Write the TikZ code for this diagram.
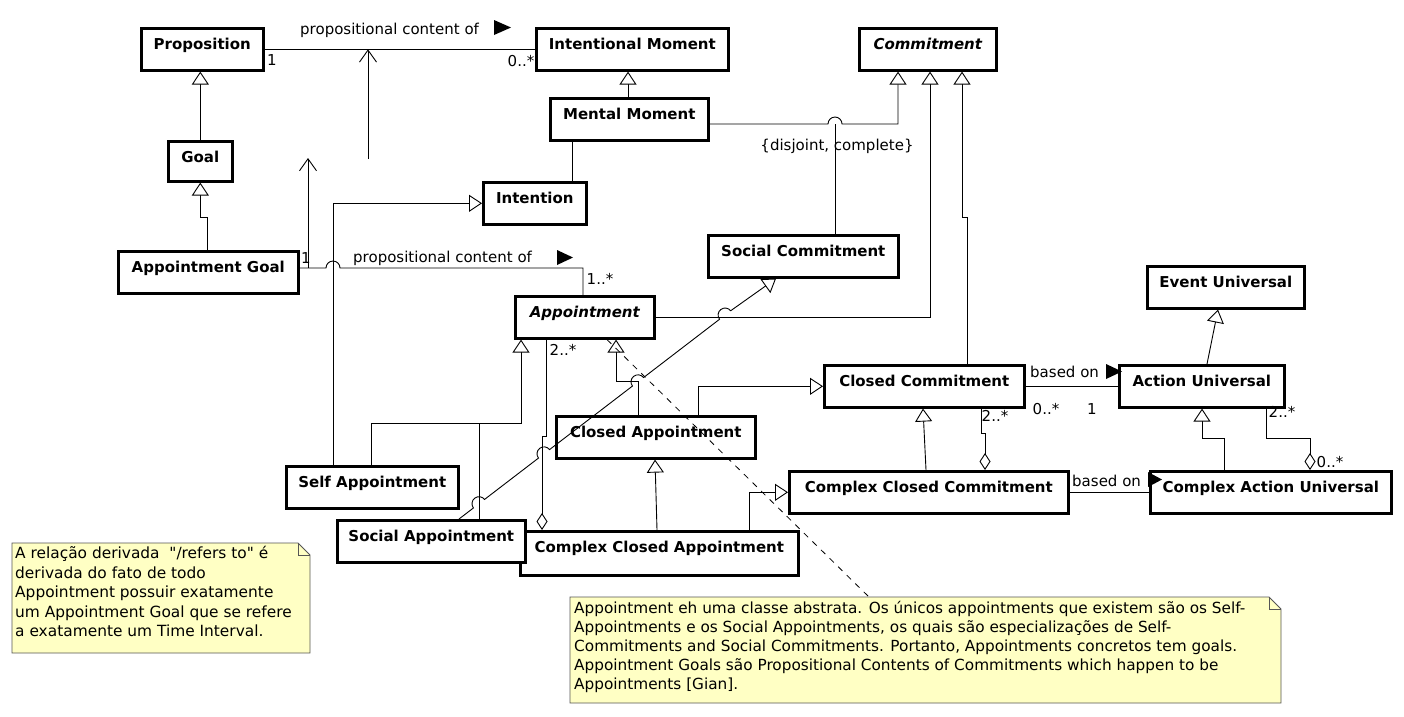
\documentclass[tikz,border=0pt]{standalone}
\usepackage{fontspec}
\setmainfont{DejaVu Sans}
\newfontfamily\notefont{DejaVu Sans}
\usepackage{tikz}
\usetikzlibrary{arrows.meta, calc}
\definecolor{noteyellow}{HTML}{FFFFC4}
\definecolor{noteedge}{HTML}{555555}

\begin{document}
\begin{tikzpicture}[
    x=1pt, y=-1pt,
    cls/.style={draw, line width=2.6pt, fill=white, anchor=north west,
        inner xsep=0pt, inner ysep=0pt, text height=21pt, text depth=21pt,
        font=\fontsize{15}{18}\selectfont\bfseries},
    abscls/.style={cls, font=\fontsize{15}{18}\selectfont\bfseries\itshape},
    link/.style={line width=0.9pt},
    gen/.style={link, -{Triangle[open, fill=white, length=13pt, width=17pt]}},
    aggr/.style={link, {Diamond[open, fill=white, length=17pt, width=11pt]}-},
    derive/.style={link, -{Straight Barb[length=12pt, width=17pt]}},
    lbl/.style={font=\fontsize{15}{18}\selectfont, inner sep=0pt},
    notetext/.style={align=left, anchor=north west, inner sep=0pt},
    notebox/.style={fill=noteyellow, draw=noteedge, line width=0.9pt},
]
    \fill[white] (0,0) rectangle (1404,716);
    \useasboundingbox (0,0) rectangle (1404,716);

    % notes
    \path[notebox] (12,543) -- (298,543) -- (310,555) -- (310,653) -- (12,653) -- cycle;
    \draw[noteedge, line width=0.9pt] (298,543) -- (298,555) -- (310,555);
    \node[notetext, font=\notefont\fontsize{15.4}{19.5}\selectfont] (note1) at (15,546)
        {A relação derivada\ \ "/refers to" é\\derivada do fato de todo\\Appointment possuir exatamente\\um Appointment Goal que se refere\\a exatamente um Time Interval.};

    \path[notebox] (570,597) -- (1269,597) -- (1281,609) -- (1281,703) -- (570,703) -- cycle;
    \draw[noteedge, line width=0.9pt] (1269,597) -- (1269,609) -- (1281,609);
    \node[notetext, font=\notefont\fontsize{15.3}{19}\selectfont] (note2) at (574,601)
        {Appointment eh uma classe abstrata. Os únicos appointments que existem são os Self-\\Appointments e os Social Appointments, os quais são especializações de Self-\\Commitments and Social Commitments. Portanto, Appointments concretos tem goals.\\Appointment Goals são Propositional Contents of Commitments which happen to be\\Appointments [Gian].};
    \coordinate (n2top) at (869,597);

    % classes
    \node[cls, minimum width=122] (prop) at (140,27) {Proposition};
    \node[cls, minimum width=192] (intmom) at (535,27) {Intentional Moment};
    \node[abscls, minimum width=137] (commit) at (858,27) {Commitment};
    \node[cls, minimum width=158] (mentmom) at (549,97) {Mental Moment};
    \node[cls, minimum width=64, text depth=19pt] (goal) at (167,140) {Goal};
    \node[cls, minimum width=103] (intent) at (482,181) {Intention};
    \node[cls, minimum width=190] (soccom) at (707,234) {Social Commitment};
    \node[cls, minimum width=180] (aptgoal) at (117,250) {Appointment Goal};
    \node[cls, minimum width=157] (evtuni) at (1146,265) {Event Universal};
    \node[abscls, minimum width=139] (appt) at (514,295) {Appointment};
    \node[cls, minimum width=200] (clocom) at (823,364) {Closed Commitment};
    \node[cls, minimum width=165] (actuni) at (1118,364) {Action Universal};
    \node[cls, minimum width=199] (cloappt) at (555,415) {Closed Appointment};
    \node[cls, minimum width=172] (selfappt) at (285,465) {Self Appointment};
    \node[cls, minimum width=279] (cxclocom) at (788,470) {Complex Closed Commitment};
    \node[cls, minimum width=241] (cxactuni) at (1149,470) {Complex Action Universal};
    \node[cls, minimum width=278, text depth=23pt] (cxcloappt) at (519,530) {Complex Closed Appointment};
    \node[cls, minimum width=188] (socappt) at (336,519) {Social Appointment};

    % propositional content
    \draw[link] (prop) -- (intmom);
    \coordinate (refA) at (368,159);
    \draw[derive] (refA) -- (refA |- prop.east);
    \coordinate (refB) at (308,158);
    \draw[derive] (refB |- 0,268) -- (refB);
    \draw[link] (aptgoal.east |- 0,268) -- (326,268) arc[start angle=180, end angle=360, radius=7]
        -- (583,268) -- (583,0 |- appt.north);

    % generalizations, left part
    \draw[gen] (goal.north) -- (goal.north |- prop.south);
    \draw[gen] (207,0 |- aptgoal.north) -- (207,217) -- (goal.south |- 0,217) -- (goal.south);
    \draw[gen] (628,0 |- mentmom.north) -- (628,0 |- intmom.south);
    \draw[link] (572,0 |- intent.north) -- (572,0 |- mentmom.south);
    \draw[gen] (mentmom.east |- 0,124) -- (828,124) arc[start angle=180, end angle=360, radius=7]
        -- (898,124) -- (898,0 |- commit.south);
    \draw[link] (835,0 |- soccom.north) -- (835,124);
    \draw[gen] (appt.east) -- (appt.east -| 930,0) -- (930,0 |- commit.south);
    \draw[gen] (967,0 |- clocom.north) -- (967,217) -- (962,217) -- (962,0 |- commit.south);
    \draw[gen] (333,0 |- selfappt.north) |- (intent.west);
    \draw[gen] (371,0 |- selfappt.north) -- (371,423) -- (521,423) -- (521,0 |- appt.south);
    \draw[link] (479,0 |- socappt.north) -- (479,423);
    \draw[gen] (638,0 |- cloappt.north) -- (638,381) -- (616,381) -- (616,0 |- appt.south);
    \draw[aggr] (542,0 |- cxcloappt.north) -- (542,436) -- (546,436) -- (546,0 |- appt.south);
    \draw[gen] (657,0 |- cxcloappt.north) -- (655,0 |- cloappt.south);
    \draw[gen] (698,0 |- cloappt.north) |- (clocom.west);
    \draw[gen] (749,0 |- cxcloappt.north) |- (cxclocom.west);

    % social appointment to social commitment, hopping over the crossings
    \draw[gen] (459,0 |- socappt.north)
        -- (473.44,507.93) arc[start angle=142.53, end angle=322.53, radius=7]
        -- (538.44,458.10) arc[start angle=142.53, end angle=322.53, radius=7]
        -- (632.44,386.06) arc[start angle=142.53, end angle=322.53, radius=7]
        -- (719.54,319.26) arc[start angle=142.53, end angle=322.53, radius=7]
        -- (776,0 |- soccom.south);

    % right part
    \draw[link] (clocom) -- (actuni);
    \draw[gen] (1207,0 |- actuni.north) -- (1218,0 |- evtuni.south);
    \draw[gen] (1224,0 |- cxactuni.north) -- (1224,438) -- (1202,438) -- (1202,0 |- actuni.south);
    \draw[aggr] (1310,0 |- cxactuni.north) -- (1310,438) -- (1266,438) -- (1266,0 |- actuni.south);
    \draw[link] (cxclocom) -- (cxactuni);
    \draw[gen] (926,0 |- cxclocom.north) -- (923,0 |- clocom.south);
    \draw[aggr] (985,0 |- cxclocom.north) -- (985,433) -- (981,433) -- (981,0 |- clocom.south);

    % note anchor
    \draw[link, line width=0.8pt, dash pattern=on 6pt off 6pt] (607,0 |- appt.south) -- (n2top);

    % labels
    \node[lbl, anchor=base west] (pcA) at (300,34) {propositional content of};
    \fill (494,20) -- (511,27.5) -- (494,35) -- cycle;
    \node[lbl] (mPropA) at (272,60) {1};
    \node[lbl] (mIntA) at (521,61) {0..*};
    \node[lbl, anchor=base west] (pcB) at (353,262) {propositional content of};
    \fill (557,250) -- (573,257.5) -- (557,265) -- cycle;
    \node[lbl] (mGoalB) at (306,258) {1};
    \node[lbl] (mApptB) at (600,279) {1..*};
    \node[lbl] (mApptC) at (563,350) {2..*};
    \node[lbl] (gset) at (837,146) {\{disjoint, complete\}};
    \node[lbl, anchor=base west] (baseA) at (1030,377) {based on};
    \fill (1106,364) -- (1122,371.5) -- (1106,379) -- cycle;
    \node[lbl] (mCloA) at (1046,409) {0..*};
    \node[lbl] (mActA) at (1092,409) {1};
    \node[lbl] (mCloB) at (995,416) {2..*};
    \node[lbl, anchor=base west] (baseB) at (1072,486) {based on};
    \fill (1148,472) -- (1162,479.5) -- (1148,487) -- cycle;
    \node[lbl] (mActB) at (1282,412) {2..*};
    \node[lbl] (mCxActB) at (1330,462) {0..*};
\end{tikzpicture}
\end{document}
